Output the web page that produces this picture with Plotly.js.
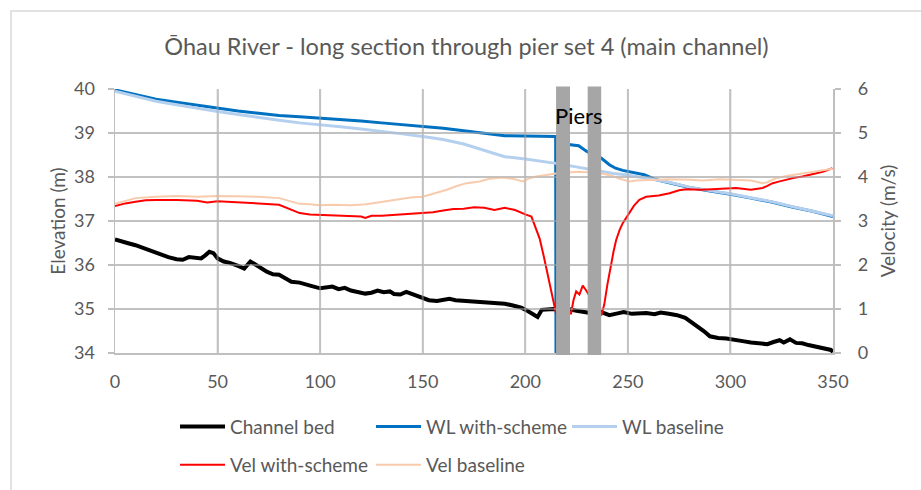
<!DOCTYPE html>
<html>
<head>
<meta charset="utf-8">
<script src="https://cdn.plot.ly/plotly-3.0.1.min.js"></script>
<style>html,body{margin:0;padding:0;background:#fff;}#chart{width:921px;height:490px;}</style>
</head>
<body>
<div id="chart"></div>
<script>
// ---- Data (chainage in m) ----
const bedX = [0,3,6,10,14,18,22,26,30,33,36,39,42,44,46,48,50,53,56,60,63,66,68,71,74,77,80,83,86,90,93,96,100,103,106,109,112,115,119,122,125,128,131,134,136,139,142,145,149,153,157,161,163,166,170,174,178,182,186,190,194,198,201,204,206,208,211,214,217,221,225,229,233,237,241,245,248,252,255,259,263,266,270,274,278,281,284,287,290,294,298,302,306,310,314,318,321,324,326,329,332,335,338,341,344,347,349,350];
const bedY = [36.58,36.55,36.5,36.45,36.38,36.32,36.25,36.18,36.13,36.12,36.18,36.17,36.15,36.22,36.3,36.27,36.15,36.08,36.05,35.98,35.92,36.08,36.02,35.93,35.85,35.79,35.78,35.7,35.62,35.6,35.57,35.52,35.47,35.48,35.51,35.45,35.48,35.42,35.38,35.35,35.37,35.42,35.38,35.4,35.34,35.33,35.39,35.34,35.28,35.2,35.18,35.2,35.23,35.2,35.19,35.17,35.15,35.15,35.14,35.12,35.08,35.03,34.96,34.88,34.82,34.98,34.99,35.0,34.97,35.0,34.96,34.93,34.9,34.93,34.86,34.9,34.93,34.89,34.9,34.91,34.88,34.92,34.89,34.86,34.8,34.7,34.62,34.5,34.38,34.34,34.33,34.31,34.27,34.24,34.21,34.2,34.25,34.29,34.24,34.31,34.23,34.22,34.18,34.15,34.13,34.1,34.07,34.02];

const wlSchemeX = [0,10,20,30,40,50,60,70,80,90,100,110,120,130,140,150,160,170,180,190,200,210,214.8,215,220.8,220.9,226,230,237,241,244,247.5,251,254,258,263,270,280,290,300,310,320,330,340,350];
const wlSchemeY = [39.98,39.87,39.77,39.7,39.63,39.57,39.5,39.45,39.4,39.37,39.34,39.3,39.27,39.23,39.19,39.15,39.11,39.05,38.99,38.94,38.93,38.92,38.92,33,33,38.74,38.71,38.58,38.43,38.28,38.2,38.15,38.12,38.1,38.05,37.95,37.87,37.76,37.68,37.61,37.52,37.43,37.32,37.22,37.1];

const wlBaseX = [0,10,20,30,40,50,60,70,80,90,100,110,120,130,140,150,160,170,178,185,190,200,210,215,220,226,232,237,243,249,256,263,270,280,290,300,310,320,330,340,350];
const wlBaseY = [39.95,39.83,39.72,39.64,39.56,39.49,39.42,39.35,39.29,39.23,39.19,39.14,39.09,39.04,38.98,38.92,38.85,38.75,38.63,38.52,38.46,38.41,38.35,38.31,38.27,38.22,38.17,38.12,38.08,38.05,38.0,37.94,37.88,37.77,37.69,37.62,37.53,37.44,37.33,37.23,37.12];

const velSchemeX = [0,5,10,15,20,30,40,45,50,60,70,80,85,90,95,100,110,120,122,125,130,140,150,155,160,165,170,175,180,185,190,195,200,203,205,207,209,211,213,215,222.3,223.5,224.8,226.4,228,229.7,237,238.5,240,241,243,244.3,246,247.5,250.8,253,255.6,258.9,265,270.3,275,278.4,286,295,302.7,310,315.7,318,320.6,324,327,331,335.1,340,345,349.7];
const velSchemeY = [3.34,3.4,3.44,3.47,3.48,3.48,3.46,3.42,3.45,3.43,3.4,3.37,3.28,3.18,3.15,3.14,3.13,3.1,3.07,3.12,3.12,3.15,3.18,3.2,3.24,3.27,3.28,3.31,3.3,3.25,3.3,3.25,3.15,3.1,2.85,2.6,2.2,1.75,1.3,0.9,0.9,1.2,1.4,1.33,1.53,1.42,0.85,1.1,1.55,1.81,2.3,2.57,2.8,2.95,3.18,3.35,3.48,3.55,3.58,3.63,3.7,3.72,3.71,3.73,3.75,3.71,3.75,3.8,3.86,3.9,3.94,3.98,4.01,4.07,4.12,4.2];

const velBaseX = [0,5,10,20,30,40,50,60,70,80,85,90,95,100,106,115,122.5,130,138.7,145,150,156,161.8,167,171.5,177.7,182.5,189,195,198.8,202,205.3,210,215,220,226.4,232,237.4,242,246,250.8,254,260,270.3,280,286.4,295,302.7,310,315.7,318,322.2,328,335.1,342,349.7];
const velBaseY = [3.39,3.46,3.52,3.55,3.57,3.55,3.57,3.56,3.55,3.52,3.45,3.39,3.38,3.36,3.37,3.36,3.38,3.43,3.5,3.54,3.55,3.63,3.71,3.8,3.86,3.9,3.96,3.99,3.95,3.9,3.97,4.01,4.05,4.08,4.1,4.12,4.1,4.08,4.03,3.96,3.9,3.92,3.93,3.95,3.94,3.92,3.95,3.94,3.92,3.86,3.88,3.97,4.03,4.08,4.14,4.19];

// pier extents (chainage, m)
const piers = [[215.0, 221.8], [230.4, 237.0]];
const pierLabel = "Piers";

const xTicks = [0,50,100,150,200,250,300,350];
const yTicks = [34,35,36,37,38,39,40];
const y2Ticks = [0,1,2,3,4,5,6];

const FONT = "Lato, 'Open Sans', sans-serif";
const GREY = "#595959";
const GRID = "#d6d6d6";

const traces = [
  {x: bedX, y: bedY, name: "Channel bed", mode: "lines", line: {color: "#000000", width: 4}, legend: "legend"},
  {x: wlSchemeX, y: wlSchemeY, name: "WL with-scheme", mode: "lines", line: {color: "#0070c0", width: 3}, legend: "legend"},
  {x: wlBaseX, y: wlBaseY, name: "WL baseline", mode: "lines", line: {color: "#b4d0ee", width: 3}, legend: "legend"},
  {x: velSchemeX, y: velSchemeY, name: "Vel with-scheme", mode: "lines", yaxis: "y2", line: {color: "#ff0000", width: 2}, legend: "legend2"},
  {x: velBaseX, y: velBaseY, name: "Vel baseline", mode: "lines", yaxis: "y2", line: {color: "#f8cbad", width: 2}, legend: "legend2"}
];

// gridlines reinforced as light overlay lines built from the tick arrays
const shapes = [];
yTicks.slice(1, -1).forEach(v => shapes.push({type: "line", xref: "paper", yref: "y", x0: 0, x1: 1, y0: v, y1: v, line: {color: "#b0b0b0", width: 2}, opacity: 0.5, layer: "above"}));
xTicks.slice(1, -1).forEach(v => shapes.push({type: "line", xref: "x", yref: "paper", x0: v, x1: v, y0: 0, y1: 1, line: {color: "#b0b0b0", width: 2}, opacity: 0.5, layer: "above"}));
piers.forEach(p => shapes.push({
  type: "rect", xref: "x", yref: "paper", x0: p[0], x1: p[1], y0: -0.008, y1: 1.009,
  fillcolor: "#a6a6a6", line: {width: 0}, layer: "above"
}));
shapes.push({type: "rect", xref: "paper", yref: "paper", x0: -0.1448, x1: 1.13, y0: -0.54, y1: 1.2955,
  line: {color: "#d9d9d9", width: 1.5}, fillcolor: "rgba(0,0,0,0)", layer: "below"});

const legendCommon = {
  orientation: "h", xanchor: "left", yanchor: "top",
  font: {family: FONT, size: 19, color: GREY},
  itemwidth: 45, entrywidth: 136, bgcolor: "rgba(0,0,0,0)", borderwidth: 0
};

const layout = {
  width: 921, height: 490,
  margin: {l: 115, r: 88, t: 89, b: 137, autoexpand: false},
  paper_bgcolor: "#ffffff", plot_bgcolor: "#ffffff",
  font: {family: FONT, size: 18, color: GREY},
  title: {text: "Ōhau River - long section through pier set 4 (main channel)", x: 0.5065, xanchor: "center", y: 0.904, yanchor: "middle", font: {family: FONT, size: 23.5, color: GREY}},
  xaxis: {
    range: [0, 350], tickvals: xTicks, ticktext: xTicks.map(String),
    showgrid: true, gridcolor: GRID, gridwidth: 2,
    showline: true, linecolor: "#bfbfbf", linewidth: 1.5,
    ticks: "outside", ticklen: 12, tickcolor: "rgba(0,0,0,0)",
    zeroline: false, tickfont: {family: FONT, size: 18, color: GREY}
  },
  yaxis: {
    range: [34, 40], tickvals: yTicks, ticktext: yTicks.map(v => v + "\u2002"),
    showgrid: true, gridcolor: GRID, gridwidth: 2,
    showline: true, linecolor: "#bfbfbf", linewidth: 1.5,
    ticks: "outside", ticklen: 6, tickcolor: "#bfbfbf", tickwidth: 1.5,
    zeroline: false, tickfont: {family: FONT, size: 18, color: GREY},
    title: {text: "Elevation (m)", font: {family: FONT, size: 19, color: GREY}, standoff: 3}
  },
  yaxis2: {
    range: [0, 6], tickvals: y2Ticks, ticktext: y2Ticks.map(v => "\u2002\u00a0" + v),
    overlaying: "y", side: "right", showgrid: false,
    showline: true, linecolor: "#bfbfbf", linewidth: 1.5,
    ticks: "outside", ticklen: 6, tickcolor: "#bfbfbf", tickwidth: 1.5,
    zeroline: false, tickfont: {family: FONT, size: 18, color: GREY},
    title: {text: "Velocity (m/s)", font: {family: FONT, size: 19, color: GREY}, standoff: 14}
  },
  legend: Object.assign({}, legendCommon, {x: 0.0836, y: -0.207}),
  legend2: Object.assign({}, legendCommon, {x: 0.0836, y: -0.352}),
  shapes: shapes,
  annotations: [{
    text: pierLabel, xref: "x", yref: "paper", x: (piers[0][0] + piers[1][1]) / 2, y: 0.898,
    showarrow: false, xanchor: "center", yanchor: "middle",
    font: {family: FONT, size: 22, color: "#000000"}
  }],
  showlegend: true
};

Plotly.newPlot("chart", traces, layout, {staticPlot: true, displayModeBar: false});
</script>
</body>
</html>
